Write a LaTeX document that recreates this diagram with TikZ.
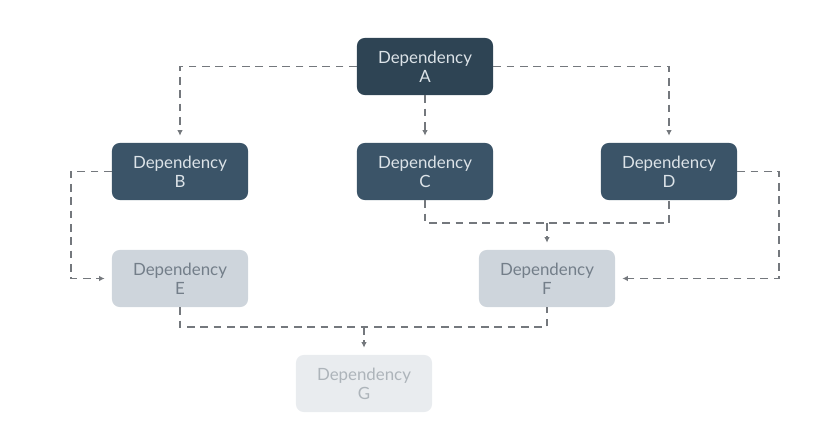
\documentclass[tikz,border=0pt]{standalone}
\usepackage{fontspec}
\setmainfont{Lato}
\usetikzlibrary{arrows.meta,positioning}
\definecolor{DeepSlate}{HTML}{2E4454}
\definecolor{Slate}{HTML}{3B5468}
\definecolor{SlateText}{HTML}{DCE3E8}
\definecolor{Mist}{HTML}{CED5DC}
\definecolor{MistText}{HTML}{737E89}
\definecolor{Haze}{HTML}{E9ECEF}
\definecolor{HazeText}{HTML}{ADB4BA}
\definecolor{Wire}{HTML}{74787D}
\tikzset{
 depbox/.style={rounded corners=5.5pt, minimum width=3.4cm, minimum height=1.425cm, align=center, inner sep=2pt, font=\fontsize{12}{13.5}\selectfont},
 topbox/.style={depbox, fill=DeepSlate, text=SlateText},
 darkbox/.style={depbox, fill=Slate, text=SlateText},
 midbox/.style={depbox, fill=Mist, text=MistText},
 palebox/.style={depbox, fill=Haze, text=HazeText},
 link/.style={draw=Wire, line width=1.3pt, dash pattern=on 5.5pt off 4pt},
 deparrow/.style={link, -{Latex[length=4pt,width=4pt]}, shorten >=5pt}
}
\begin{document}
\begin{tikzpicture}[x=0.025cm, y=-0.025cm]
\useasboundingbox (0,0) rectangle (818,432);
% dependency boxes
\node[topbox] (A) at (425,66.5) {Dependency\\A};
\node[darkbox] (B) at (180,171.5) {Dependency\\B};
\node[darkbox] (C) at (425,171.5) {Dependency\\C};
\node[darkbox] (D) at (669,171.5) {Dependency\\D};
\node[midbox] (E) at (180,278.5) {Dependency\\E};
\node[midbox] (F) at (547,278.5) {Dependency\\F};
\node[palebox] (G) at (364,383.5) {Dependency\\G};
% joins
\coordinate (cdjoin) at (547,223);
\coordinate (efjoin) at (364,327);
% connectors
\draw[deparrow] (A.west) -| (B);
\draw[deparrow] (A.east) -| (D);
\draw[deparrow] (A) -- (C);
\draw[deparrow] (B.west) -- ++(-41,0) |- (E);
\draw[link] (C.south) |- (cdjoin) -| (D.south);
\draw[deparrow] (cdjoin) -- (F);
\draw[deparrow] (D.east) -- ++(42,0) |- (F);
\draw[link] (E.south) |- (efjoin) -| (F.south);
\draw[deparrow] (efjoin) -- (G);
\end{tikzpicture}
\end{document}
